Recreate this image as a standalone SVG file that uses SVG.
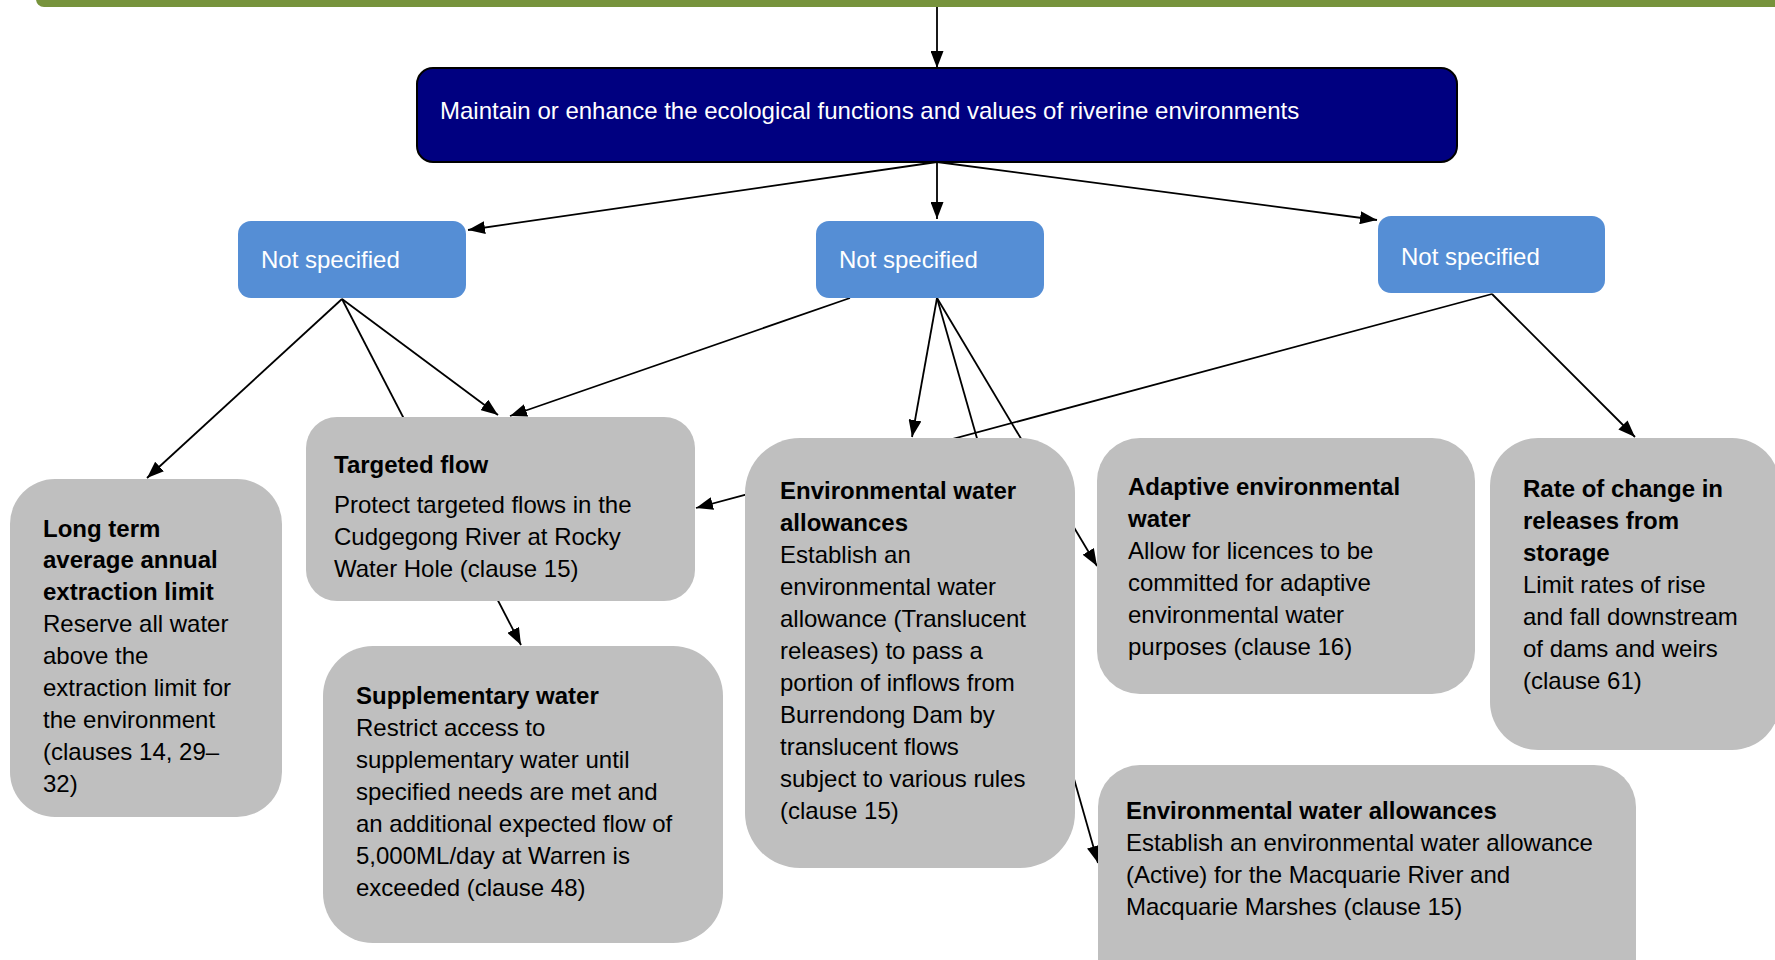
<svg xmlns="http://www.w3.org/2000/svg" width="1775" height="960" viewBox="0 0 1775 960">
  <style>
    text { font-family: "Liberation Sans", Arial, sans-serif; font-size: 24px; }
    .w { fill: #ffffff; }
    .k { fill: #000000; }
    .b { font-weight: bold; }
    .blue { fill: #558ED5; }
    .grey { fill: #BFBFBF; }
    .edge { fill: none; stroke: #000; stroke-width: 1.8; }
    .edge.a { marker-end: url(#arrow); }
  </style>
  <defs>
    <marker id="arrow" markerUnits="userSpaceOnUse" markerWidth="18" markerHeight="13" refX="17" refY="6.5" orient="auto">
      <path d="M0,0 L17,6.5 L0,13 z" fill="#000"/>
    </marker>
  </defs>

  <rect width="1775" height="960" fill="#ffffff"/>

  <!-- banner at the top edge -->
  <rect x="36" y="-30" width="1800" height="37" rx="8" fill="#77933C"/>

  <!-- connectors (drawn first so the boxes sit over them) -->
  <g id="connectors">
    <line class="edge a" x1="937" y1="7" x2="937" y2="68"/>
    <line class="edge a" x1="937" y1="162" x2="468" y2="230"/>
    <line class="edge a" x1="937" y1="162" x2="937" y2="219"/>
    <line class="edge a" x1="937" y1="162" x2="1377" y2="220"/>

    <line class="edge a" x1="342" y1="299" x2="147" y2="478"/>
    <line class="edge a" x1="342" y1="299" x2="498" y2="415"/>
    <line class="edge a" x1="342" y1="299" x2="521" y2="645"/>

    <line class="edge a" x1="850" y1="298" x2="510" y2="416"/>
    <line class="edge a" x1="937" y1="298" x2="912" y2="437"/>
    <line class="edge a" x1="937" y1="298" x2="1098" y2="863"/>
    <line class="edge a" x1="937" y1="298" x2="1097" y2="566"/>

    <line class="edge a" x1="1492" y1="294" x2="1635" y2="437"/>
    <line class="edge a" x1="1492" y1="294" x2="696" y2="508"/>
  </g>

  <!-- objective -->
  <g id="objective">
    <rect x="417" y="68" width="1040" height="94" rx="16" fill="#000080" stroke="#000" stroke-width="2"/>
    <text class="w" x="440" y="119">Maintain or enhance the ecological functions and values of riverine environments</text>
  </g>

  <!-- unspecified outcomes -->
  <g id="outcome-1">
    <rect class="blue" x="238" y="221" width="228" height="77" rx="13"/>
    <text class="w" x="261" y="268">Not specified</text>
  </g>
  <g id="outcome-2">
    <rect class="blue" x="816" y="221" width="228" height="77" rx="13"/>
    <text class="w" x="839" y="268">Not specified</text>
  </g>
  <g id="outcome-3">
    <rect class="blue" x="1378" y="216" width="227" height="77" rx="13"/>
    <text class="w" x="1401" y="265">Not specified</text>
  </g>

  <!-- strategies -->
  <g id="long-term-limit">
    <rect class="grey" x="10" y="479" width="272" height="338" rx="45"/>
    <text class="k" x="43">
      <tspan class="b" x="43" y="537">Long term</tspan>
      <tspan class="b" x="43" y="568">average annual</tspan>
      <tspan class="b" x="43" y="600">extraction limit</tspan>
      <tspan x="43" y="632">Reserve all water</tspan>
      <tspan x="43" y="664">above the</tspan>
      <tspan x="43" y="696">extraction limit for</tspan>
      <tspan x="43" y="728">the environment</tspan>
      <tspan x="43" y="760">(clauses 14, 29–</tspan>
      <tspan x="43" y="792">32)</tspan>
    </text>
  </g>

  <g id="targeted-flow">
    <rect class="grey" x="306" y="417" width="389" height="184" rx="31"/>
    <text class="k">
      <tspan class="b" x="334" y="473">Targeted flow</tspan>
      <tspan x="334" y="513">Protect targeted flows in the</tspan>
      <tspan x="334" y="545">Cudgegong River at Rocky</tspan>
      <tspan x="334" y="577">Water Hole (clause 15)</tspan>
    </text>
  </g>

  <g id="supplementary-water">
    <rect class="grey" x="323" y="646" width="400" height="297" rx="50"/>
    <text class="k">
      <tspan class="b" x="356" y="704">Supplementary water</tspan>
      <tspan x="356" y="736">Restrict access to</tspan>
      <tspan x="356" y="768">supplementary water until</tspan>
      <tspan x="356" y="800">specified needs are met and</tspan>
      <tspan x="356" y="832">an additional expected flow of</tspan>
      <tspan x="356" y="864">5,000ML/day at Warren is</tspan>
      <tspan x="356" y="896">exceeded (clause 48)</tspan>
    </text>
  </g>

  <g id="translucent-allowance">
    <rect class="grey" x="745" y="438" width="330" height="430" rx="55"/>
    <text class="k">
      <tspan class="b" x="780" y="499">Environmental water</tspan>
      <tspan class="b" x="780" y="531">allowances</tspan>
      <tspan x="780" y="563">Establish an</tspan>
      <tspan x="780" y="595">environmental water</tspan>
      <tspan x="780" y="627">allowance (Translucent</tspan>
      <tspan x="780" y="659">releases) to pass a</tspan>
      <tspan x="780" y="691">portion of inflows from</tspan>
      <tspan x="780" y="723">Burrendong Dam by</tspan>
      <tspan x="780" y="755">translucent flows</tspan>
      <tspan x="780" y="787">subject to various rules</tspan>
      <tspan x="780" y="819">(clause 15)</tspan>
    </text>
  </g>

  <g id="adaptive-water">
    <rect class="grey" x="1097" y="438" width="378" height="256" rx="43"/>
    <text class="k">
      <tspan class="b" x="1128" y="495">Adaptive environmental</tspan>
      <tspan class="b" x="1128" y="527">water</tspan>
      <tspan x="1128" y="559">Allow for licences to be</tspan>
      <tspan x="1128" y="591">committed for adaptive</tspan>
      <tspan x="1128" y="623">environmental water</tspan>
      <tspan x="1128" y="655">purposes (clause 16)</tspan>
    </text>
  </g>

  <g id="rate-of-change">
    <rect class="grey" x="1490" y="438" width="290" height="312" rx="48"/>
    <text class="k">
      <tspan class="b" x="1523" y="497">Rate of change in</tspan>
      <tspan class="b" x="1523" y="529">releases from</tspan>
      <tspan class="b" x="1523" y="561">storage</tspan>
      <tspan x="1523" y="593">Limit rates of rise</tspan>
      <tspan x="1523" y="625">and fall downstream</tspan>
      <tspan x="1523" y="657">of dams and weirs</tspan>
      <tspan x="1523" y="689">(clause 61)</tspan>
    </text>
  </g>

  <g id="active-allowance">
    <rect class="grey" x="1098" y="765" width="538" height="240" rx="42"/>
    <text class="k">
      <tspan class="b" x="1126" y="819">Environmental water allowances</tspan>
      <tspan x="1126" y="851">Establish an environmental water allowance</tspan>
      <tspan x="1126" y="883">(Active) for the Macquarie River and</tspan>
      <tspan x="1126" y="915">Macquarie Marshes (clause 15)</tspan>
    </text>
  </g>
</svg>
